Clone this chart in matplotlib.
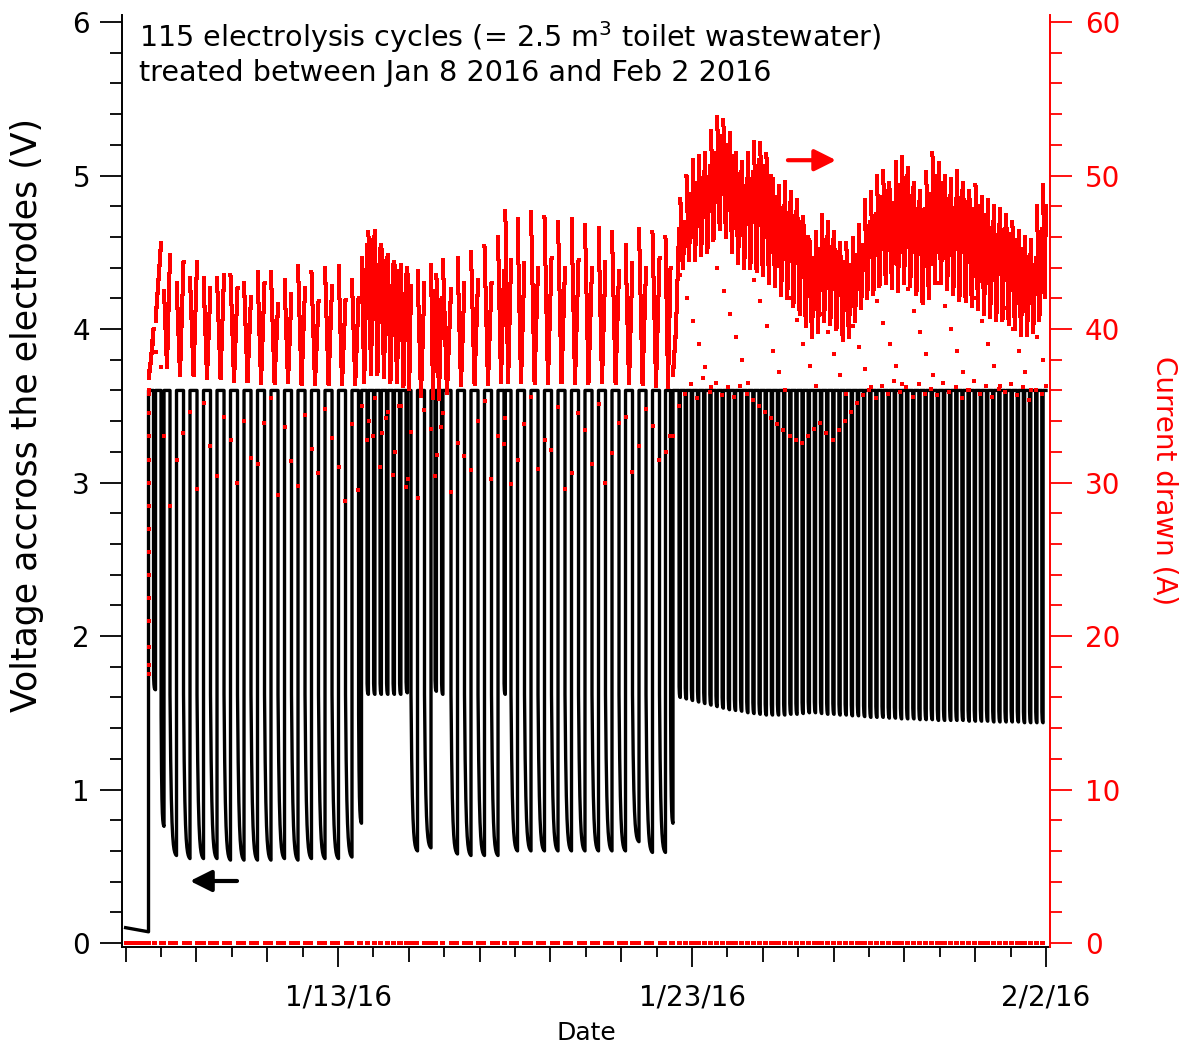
import numpy as np
import matplotlib
matplotlib.use("Agg")
import matplotlib.pyplot as plt

plt.rcParams['font.family'] = ['DejaVu Sans']
plt.rcParams['mathtext.fontset'] = 'dejavusans'

# ---------------- data: time in days since Jan 7 2016 00:00 ----------------
idle_time = [0.0, 0.647]
idle_voltage = [0.100, 0.073]
start_time = 0.647
end_time = 26.0
hold_voltage = 3.6

# power-off periods (start, end) and lowest voltage reached in each
off_start = [0.788, 1.000, 1.254, 1.636, 2.017, 2.398, 2.780, 3.161, 3.542, 3.924,
             4.305, 4.686, 5.068, 5.449, 5.831, 6.212, 6.579,
             6.819, 7.003, 7.186, 7.370, 7.554, 7.737, 7.921,
             8.062, 8.443, 8.740, 8.924,
             9.192, 9.573, 9.955, 10.336, 10.689,
             10.887, 11.268, 11.650, 12.031, 12.412, 12.794, 13.175, 13.556, 13.938,
             14.319, 14.701, 15.082, 15.393,
             15.633, 15.807, 15.980, 16.154, 16.328, 16.502, 16.675, 16.849, 17.023, 17.196,
             17.370, 17.544, 17.717, 17.891, 18.065, 18.239, 18.412, 18.586, 18.760, 18.933,
             19.107, 19.281, 19.454, 19.628, 19.802, 19.976, 20.149, 20.323, 20.497, 20.670,
             20.844, 21.018, 21.191, 21.365, 21.539, 21.713, 21.886, 22.060, 22.234, 22.407,
             22.581, 22.755, 22.928, 23.102, 23.276, 23.450, 23.623, 23.797, 23.971, 24.144,
             24.318, 24.492, 24.665, 24.839, 25.013, 25.187, 25.360, 25.534, 25.708, 25.881]
off_end = [0.845, 1.085, 1.438, 1.819, 2.201, 2.582, 2.963, 3.345, 3.726, 4.107,
           4.489, 4.870, 5.251, 5.633, 6.014, 6.395, 6.664,
           6.859, 7.043, 7.226, 7.410, 7.594, 7.777, 7.961,
           8.246, 8.627, 8.780, 8.964,
           9.376, 9.757, 10.138, 10.520, 10.726,
           11.071, 11.452, 11.833, 12.215, 12.596, 12.977, 13.359, 13.740, 14.122,
           14.503, 14.884, 15.251, 15.463,
           15.670, 15.844, 16.017, 16.191, 16.365, 16.539, 16.712, 16.886, 17.060, 17.233,
           17.407, 17.581, 17.754, 17.928, 18.102, 18.276, 18.449, 18.623, 18.797, 18.970,
           19.144, 19.318, 19.491, 19.665, 19.839, 20.013, 20.186, 20.360, 20.534, 20.707,
           20.881, 21.055, 21.228, 21.402, 21.576, 21.750, 21.923, 22.097, 22.271, 22.444,
           22.618, 22.792, 22.965, 23.139, 23.313, 23.487, 23.660, 23.834, 24.008, 24.181,
           24.355, 24.529, 24.702, 24.876, 25.050, 25.224, 25.397, 25.571, 25.745, 25.918]
off_min_voltage = [1.65, 0.76, 0.57, 0.55, 0.55, 0.55, 0.54, 0.54, 0.54, 0.54,
                   0.55, 0.54, 0.55, 0.55, 0.55, 0.56, 0.78,
                   1.62, 1.62, 1.62, 1.62, 1.62, 1.62, 1.63,
                   0.60, 0.62, 1.64, 1.62,
                   0.58, 0.57, 0.57, 0.57, 1.62,
                   0.60, 0.60, 0.60, 0.60, 0.60, 0.60, 0.60, 0.60, 0.60,
                   0.66, 0.59, 0.59, 0.78,
                   1.60, 1.59, 1.58, 1.57, 1.56, 1.55, 1.54, 1.53, 1.52, 1.515,
                   1.51, 1.50, 1.495, 1.49, 1.485, 1.485, 1.485, 1.485, 1.49, 1.49,
                   1.495, 1.50, 1.50, 1.495, 1.49, 1.49, 1.485, 1.485, 1.48, 1.48,
                   1.475, 1.47, 1.47, 1.47, 1.465, 1.465, 1.46, 1.46, 1.46, 1.455,
                   1.455, 1.455, 1.45, 1.45, 1.45, 1.45, 1.45, 1.445, 1.445, 1.445,
                   1.445, 1.44, 1.44, 1.44, 1.44, 1.44, 1.435, 1.435, 1.435, 1.435]

# current (A) during each powered period: at its start, its lowest point, its end
on_current_start = [36.8, 40.5, 42.5, 43.0, 43.3, 43.3, 43.3, 43.5, 43.0, 43.7,
                    43.7, 43.2, 44.1, 43.7, 44.0, 44.1, 43.2, 44.6, 46.3, 46.4,
                    45.5, 44.8, 44.4, 44.2, 44.0, 43.8, 44.2, 43.5, 44.5, 44.6,
                    45.0, 45.4, 46.0, 47.7, 47.2, 47.6, 47.3, 47.0, 47.2, 46.8,
                    46.6, 46.3, 45.5, 46.5, 46.3, 46.0, 37.0,
                    48.5, 50.0, 51.0, 51.3, 51.5, 52.9, 53.8, 53.6, 52.8, 51.5,
                    50.9, 51.5, 52.2, 52.1, 51.4, 49.8, 49.3, 49.6, 48.9, 48.4,
                    47.3, 45.8, 46.3, 47.4, 47.0, 46.3, 45.6, 45.6, 45.9, 46.8,
                    48.4, 48.9, 50.0, 50.3, 49.5, 50.9, 51.2, 50.5, 49.5, 49.0,
                    50.2, 51.5, 50.8, 50.0, 49.8, 50.3, 49.5, 49.0, 49.4, 48.6,
                    48.4, 48.0, 47.8, 47.4, 47.0, 46.4, 46.0, 45.8, 48.0, 49.4]
on_current_trough = [38.0, 43.0, 37.5, 37.0, 37.0, 36.8, 36.8, 36.6, 36.6, 36.5,
                     36.5, 36.5, 36.4, 36.4, 36.4, 36.4, 36.4, 36.5, 37.0, 37.0,
                     36.8, 36.5, 36.5, 36.2, 36.0, 35.6, 35.4, 35.4, 35.8, 36.3,
                     36.4, 36.4, 36.5, 36.5, 36.5, 36.5, 36.5, 36.5, 36.5, 36.5,
                     36.5, 36.5, 36.4, 36.4, 36.3, 36.2, 40.0,
                     44.0, 44.5, 44.5, 44.8, 45.0, 45.8, 46.5, 46.0, 45.0, 44.3,
                     44.0, 44.0, 43.8, 43.5, 43.0, 42.8, 42.2, 42.0, 41.5, 41.0,
                     40.2, 39.5, 39.8, 40.5, 40.3, 40.0, 39.3, 39.5, 40.5, 41.4,
                     42.0, 42.3, 42.8, 43.0, 42.7, 42.5, 43.0, 42.8, 42.3, 41.7,
                     42.0, 43.0, 43.0, 42.6, 42.3, 41.9, 41.8, 41.5, 41.3, 41.0,
                     40.8, 40.6, 40.6, 40.3, 40.0, 39.6, 39.6, 39.8, 40.6, 42.0]
on_current_end = [40.0, 45.6, 44.8, 44.4, 44.4, 42.7, 43.5, 42.7, 42.1, 43.0,
                  41.6, 42.3, 42.7, 41.8, 42.8, 41.9, 42.0, 45.5, 46.0, 45.2,
                  44.6, 44.2, 43.8, 43.5, 42.8, 43.0, 42.5, 42.0, 42.6, 43.0,
                  43.2, 43.0, 43.8, 44.5, 44.3, 44.0, 44.6, 44.0, 44.5, 44.0,
                  44.4, 43.8, 44.3, 44.0, 44.6, 44.0, 46.5,
                  47.0, 48.8, 49.5, 50.2, 50.6, 51.5, 52.6, 52.0, 51.3, 50.2,
                  49.8, 50.2, 51.0, 50.6, 50.0, 48.6, 48.0, 48.2, 47.6, 47.0,
                  46.0, 44.6, 45.2, 46.0, 45.8, 45.0, 44.4, 44.2, 44.8, 45.5,
                  47.0, 47.5, 48.6, 49.0, 48.2, 49.4, 50.0, 49.2, 48.3, 47.8,
                  48.8, 50.0, 49.5, 48.7, 48.5, 49.0, 48.3, 47.8, 48.0, 47.4,
                  47.0, 46.8, 46.5, 46.2, 45.8, 45.2, 44.8, 44.6, 46.5, 48.0]
# single samples caught while the current was switching on / off
switch_on_current = [36.0, 38.5, 33.0, 31.5, 34.6, 35.2, 30.4, 32.8, 34.0, 31.2,
                     35.5, 33.6, 29.8, 32.2, 34.8, 31.0, 33.8, 35.0, 34.0, 35.5,
                     33.2, 34.6, 32.0, 35.0, 30.2, 29.0, 33.5, 31.8, 34.5, 32.6,
                     30.8, 35.3, 33.0, 34.2, 31.5, 35.6, 32.8, 34.9, 30.6, 33.4,
                     35.1, 31.9, 34.3, 32.4, 33.7, 32.0, 33.0,
                     43.5, 42.0, 40.5, 39.0, 37.5, 36.2, 44.0, 42.5, 41.0, 39.5,
                     38.0, 36.5, 43.2, 41.8, 40.2, 38.6, 37.2, 36.0, 42.0, 40.6,
                     39.0, 37.6, 36.3, 41.0, 39.8, 38.4, 37.0, 35.8, 40.2, 38.8,
                     37.4, 36.2, 41.8, 40.4, 39.0, 37.6, 36.4, 42.6, 41.2, 39.8,
                     38.4, 37.0, 43.0, 41.5, 40.0, 38.6, 37.2, 36.0, 42.0, 40.5,
                     39.0, 37.6, 36.3, 41.4, 40.0, 38.6, 37.2, 36.0, 39.5, 38.0]
switch_off_current = [39.0, 37.5, 28.5, 33.2, 29.6, 32.4, 34.3, 30.0, 31.6, 33.9,
                      29.2, 31.4, 34.4, 30.6, 32.9, 28.8, 29.5, 32.8, 33.0, 31.0,
                      34.2, 30.5, 35.0, 29.7, 33.3, 34.7, 30.4, 33.6, 29.4, 31.7,
                      34.0, 30.2, 32.5, 29.9, 33.8, 30.9, 32.1, 29.6, 34.5, 31.2,
                      30.0, 33.9, 30.7, 34.8, 31.5, 33.0, 35.0,
                      35.8, 36.4, 35.5, 36.8, 35.9, 36.5, 35.7, 36.2, 35.6, 36.3,
                      35.8, 35.4, 35.0, 34.6, 34.2, 33.8, 33.4, 33.0, 32.8, 32.6,
                      33.0, 33.5, 33.9, 33.2, 32.8, 33.4, 34.0, 34.6, 35.2, 35.7,
                      36.0, 35.5, 36.3, 35.8, 36.6, 35.9, 36.2, 35.6, 36.4, 35.8,
                      36.1, 35.7, 36.5, 35.9, 36.2, 35.5, 36.0, 36.6, 35.8, 36.3,
                      35.6, 36.1, 35.9, 36.4, 35.7, 36.2, 35.4, 36.0, 35.8, 36.3]
startup_current = [17.5, 18.1, 19.3, 21.0, 22.5, 24.0, 25.5, 27.0, 28.5, 30.0,
                   31.5, 33.0, 34.5, 35.8]

x_major_days = [6, 16, 26]
x_major_labels = ['1/13/16', '1/23/16', '2/2/16']
x_medium_days = [0, 2, 4, 8, 10, 12, 14, 18, 20, 22, 24]
x_short_days = [1, 3, 5, 7, 9, 11, 13, 15, 17, 19, 21, 23, 25]

sample_step = 0.0014  # days between logged samples

# ---------------- build traces ----------------
vt = list(idle_time)
vv = list(idle_voltage)
vt.append(start_time); vv.append(hold_voltage)
s_dec = np.linspace(0, 1, 30)
decay = (np.exp(-5 * s_dec) - np.exp(-5)) / (1 - np.exp(-5))
for ts, te, vm in zip(off_start, off_end, off_min_voltage):
    vj = 1.62 if vm < 1.3 else vm + 0.1
    vt.append(ts); vv.append(hold_voltage)
    vt.extend(ts + s_dec * (te - ts)); vv.extend(vm + (vj - vm) * decay)
    vt.append(te); vv.append(hold_voltage)
vt.append(end_time); vv.append(hold_voltage)

ct, cc = [], []
tz = np.arange(idle_time[0], start_time, sample_step)
ct.extend(tz); cc.extend(np.zeros_like(tz))
ct.extend([start_time] * len(startup_current)); cc.extend(startup_current)
on_begin = [start_time] + off_end
on_finish = off_start + [end_time]
for j in range(len(on_begin)):
    tb, te = on_begin[j], on_finish[j]
    n = max(int((te - tb) / sample_step), 3)
    s = np.linspace(0, 1, n)
    cL, cT, cR = on_current_start[j], on_current_trough[j], on_current_end[j]
    c = np.where(s < 0.5, cL + (cT - cL) * s / 0.5, cT + (cR - cT) * (s - 0.5) / 0.5)
    ct.extend(tb + s * (te - tb)); cc.extend(c)
    ct.append(tb + 0.004); cc.append(switch_on_current[j])
    ct.append(te - 0.004); cc.append(switch_off_current[j])
for ts, te in zip(off_start, off_end):
    tz = np.arange(ts, te, sample_step)
    ct.extend(tz); cc.extend(np.zeros_like(tz))

# ---------------- figure ----------------
fig = plt.figure(figsize=(11.9, 10.46), dpi=100)
L, R, B, T = 122, 1050, 947, 15
ax = fig.add_axes([L / 1190, 1 - B / 1046, (R - L) / 1190, (B - T) / 1046])
ax.plot(vt, vv, color='black', lw=2.4, solid_joinstyle='round', zorder=2)
ax.set_xlim(-0.102, 26.113)
ax.set_ylim(-0.026, 6.046)

ax2 = ax.twinx()
ax2.plot(ct, cc, 's', ms=3.0, mew=0, color='#ff0000', zorder=3)
ax2.set_ylim(-0.26, 60.46)

for a in (ax, ax2):
    a.spines['top'].set_visible(False)
ax.spines['right'].set_visible(False)
ax2.spines['left'].set_visible(False)
ax2.spines['bottom'].set_visible(False)
ax2.spines['right'].set_color('#ff0000')
for sp in ('left', 'bottom'):
    ax.spines[sp].set_linewidth(1.4)
ax2.spines['right'].set_linewidth(1.4)

ax.set_yticks(range(0, 7))
ax.set_yticks(np.arange(0, 6.01, 0.2), minor=True)
ax.tick_params(axis='y', which='major', direction='out', length=16, width=1.3,
               labelsize=20, pad=7)
ax.tick_params(axis='y', which='minor', direction='out', length=8.5, width=1.3)

ax2.set_yticks(range(0, 61, 10))
ax2.set_yticks(range(0, 61, 2), minor=True)
ax2.tick_params(axis='y', which='major', direction='out', length=16, width=1.3,
                labelsize=20, pad=9, colors='#ff0000')
ax2.tick_params(axis='y', which='minor', direction='out', length=8.5, width=1.3,
                colors='#ff0000')

ax.set_xticks(x_major_days)
ax.set_xticklabels(x_major_labels)
ax.set_xticks(x_short_days, minor=True)
ax.tick_params(axis='x', which='major', direction='out', length=14.4, width=1.3,
               labelsize=20, pad=12)
ax.tick_params(axis='x', which='minor', direction='out', length=7.2, width=1.3)
sec = ax.secondary_xaxis('bottom')
sec.set_xticks(x_medium_days)
sec.tick_params(axis='x', direction='out', length=10.8, width=1.3, labelbottom=False)
sec.spines['bottom'].set_visible(False)

ax.set_xlabel('Date', fontsize=18)
ax.xaxis.set_label_coords(0.5, -0.092)
ax.xaxis.label.set_va('center')
ax.set_ylabel('Voltage accross the electrodes (V)', fontsize=25)
ax.yaxis.set_label_coords(-0.102, 0.571)
ax.yaxis.label.set_va('center')
ax2.set_ylabel('Current drawn (A)', fontsize=20, color='#ff0000', rotation=270)
ax2.yaxis.set_label_coords(1.123, 0.5)
ax2.yaxis.label.set_va('center')

ax.annotate('', xy=(1.819, 0.404), xytext=(3.147, 0.404),
            arrowprops=dict(arrowstyle='-|>,head_length=0.5,head_width=0.25',
                            color='black', lw=3, mutation_scale=26,
                            shrinkA=0, shrinkB=0))
ax2.annotate('', xy=(20.07, 51.0), xytext=(18.71, 51.0),
             arrowprops=dict(arrowstyle='-|>,head_length=0.5,head_width=0.25',
                             color='#ff0000', lw=3, mutation_scale=26,
                             shrinkA=0, shrinkB=0))

fig.text(139 / 1190, 1 - 19 / 1046,
         '115 electrolysis cycles (= 2.5 m$^{3}$ toilet wastewater)\n'
         'treated between Jan 8 2016 and Feb 2 2016',
         fontsize=20.6, va='top', ha='left', linespacing=1.2)

fig.savefig('out.png', dpi=100, facecolor='white')
